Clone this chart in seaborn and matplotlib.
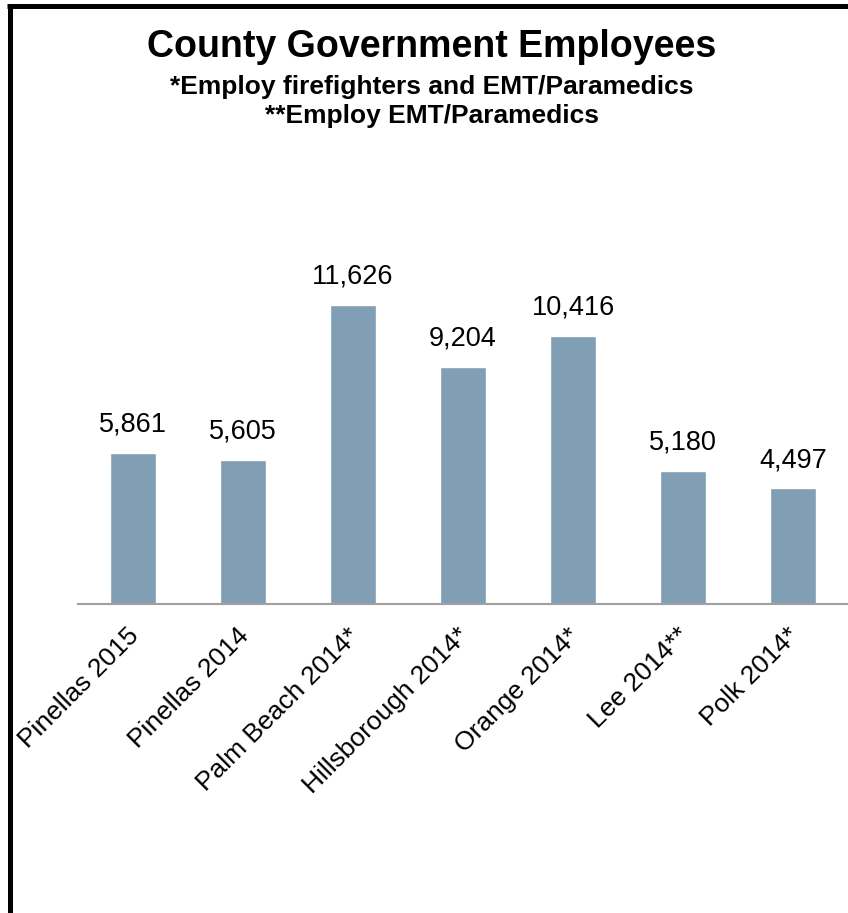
import matplotlib
matplotlib.use("Agg")
import matplotlib.pyplot as plt
import matplotlib.transforms as mtransforms
import seaborn as sns
import pandas as pd
from matplotlib.lines import Line2D

categories = ["Pinellas 2015", "Pinellas 2014", "Palm Beach 2014*", "Hillsborough 2014*",
              "Orange 2014*", "Lee 2014**", "Polk 2014*"]
employees = [5861, 5605, 11626, 9204, 10416, 5180, 4497]

title = "County Government Employees"
subtitle1 = "*Employ firefighters and EMT/Paramedics"
subtitle2 = "**Employ EMT/Paramedics"

sns.set_style("white")
plt.rcParams['font.family'] = ['Liberation Sans', 'DejaVu Sans']
plt.rcParams['text.color'] = 'black'
plt.rcParams['xtick.color'] = 'black'

W, H = 848, 913
fig = plt.figure(figsize=(W / 100, H / 100), dpi=100)

ax_left = 78 / W
ax_bottom = (H - 604) / H
ax_top_px = 150
ax = fig.add_axes([ax_left, ax_bottom, 1.0 - ax_left, (604 - ax_top_px) / H])

df = pd.DataFrame({"county": categories, "employees": employees})
sns.barplot(data=df, x="county", y="employees", color="#809FB4", saturation=1,
            width=0.41, ax=ax)

scale = 0.02573  # px per unit
ax.set_ylim(0, (604 - ax_top_px) / scale)
ax.set_xlim(-0.5, len(categories) - 0.5)

for c in ax.containers:
    ax.bar_label(c, labels=[f"{v:,}" for v in employees], padding=11,
                 fontsize=19.5, color="black")

for s in ["left", "right", "top"]:
    ax.spines[s].set_visible(False)
ax.spines["bottom"].set_color("#A0A0A0")
ax.spines["bottom"].set_linewidth(1.5)
ax.set_yticks([])
ax.set_xlabel("")
ax.set_ylabel("")

ax.set_xticks(range(len(categories)))
ax.set_xticklabels(categories, rotation=45, ha="right", rotation_mode="anchor",
                   fontsize=19, color="black")
ax.tick_params(axis="x", which="major", length=0, pad=14, labelcolor="black")
offset = mtransforms.ScaledTranslation(-6 / 100, 0, fig.dpi_scale_trans)
for lbl in ax.get_xticklabels():
    lbl.set_transform(lbl.get_transform() + offset)
ax.set_xticks([i - 0.5 for i in range(len(categories) + 1)], minor=True)
ax.tick_params(axis="x", which="minor", length=7, width=1.5, color="#A0A0A0",
               direction="out")

cx = 432 / W
fig.text(cx, 1 - 47 / H, title, ha="center", va="center", fontsize=27,
         fontweight="bold", color="black")
fig.text(cx, 1 - 87 / H, subtitle1, ha="center", va="center", fontsize=19,
         fontweight="bold", color="black")
fig.text(cx, 1 - 116 / H, subtitle2, ha="center", va="center", fontsize=19,
         fontweight="bold", color="black")

# border (left and top visible; right/bottom cut off)
fig.add_artist(Line2D([9.5 / W, 9.5 / W], [0, 1 - 4 / H], transform=fig.transFigure,
                      color="black", linewidth=3.6, solid_capstyle="butt"))
fig.add_artist(Line2D([7 / W, 1.0], [1 - 6.5 / H, 1 - 6.5 / H], transform=fig.transFigure,
                      color="black", linewidth=3.6, solid_capstyle="butt"))

fig.savefig("out.png", dpi=100)
